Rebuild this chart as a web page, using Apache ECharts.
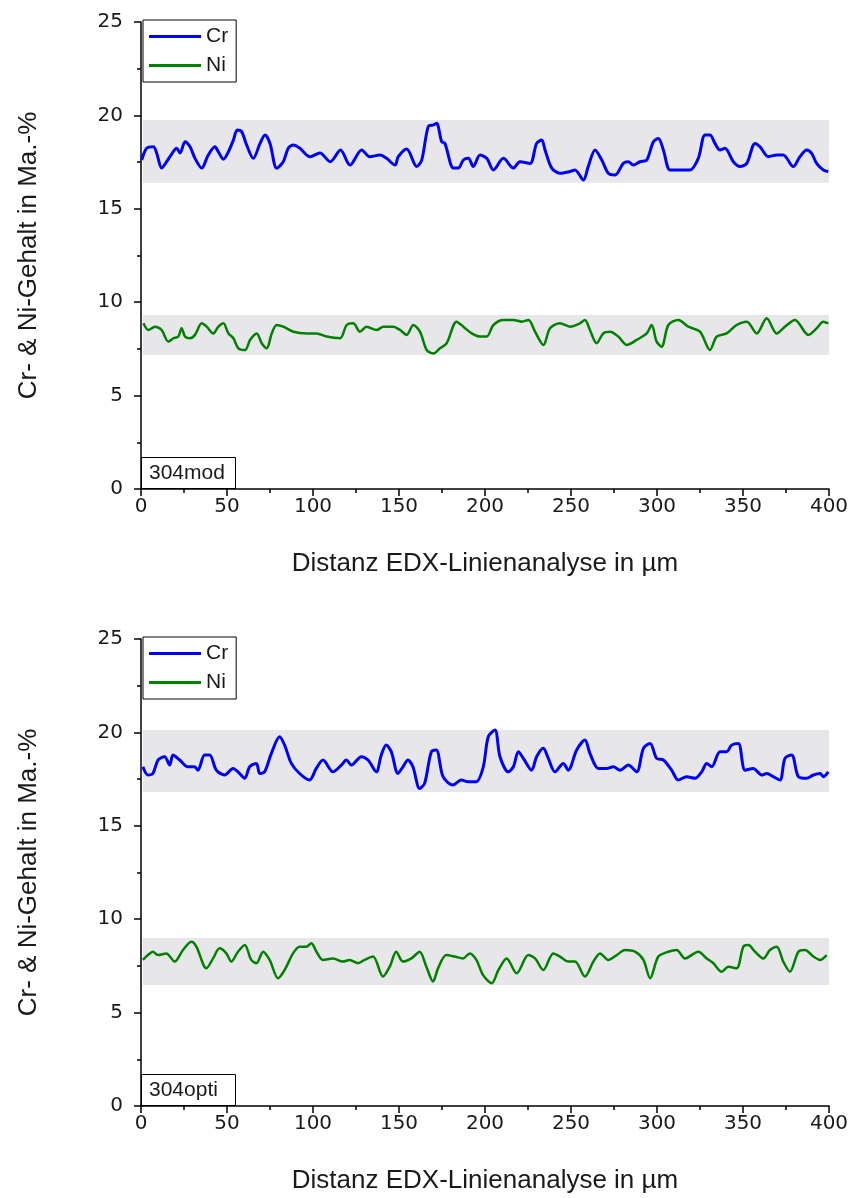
<!DOCTYPE html>
<html>
<head>
<meta charset="utf-8">
<script src="https://cdn.jsdelivr.net/npm/echarts@6/dist/echarts.min.js"></script>
<style>
html,body{margin:0;padding:0;background:#fff;}
#chart{width:854px;height:1198px;}
</style>
</head>
<body>
<div id="chart"></div>
<script>
// ---- axis ranges ----
const X_MIN = 0, X_MAX = 400, X_STEP = 50;
const Y_MIN = 0, Y_MAX = 25, Y_STEP = 5;
const xAxisTitle = 'Distanz EDX-Linienanalyse in µm';
const yAxisTitle = 'Cr- & Ni-Gehalt in Ma.-%';
const sampleNames = ['304mod', '304opti'];
const seriesNames = ['Cr', 'Ni'];

// ---- 304mod : Cr ----
const crModX = [0.4,3.3,7.2,9.1,12,14.9,17.8,20.7,22.7,25.6,28.5,31.4,35.3,39.1,43,45,47.9,50.8,53.7,56,58.5,61.4,65.3,69.2,72.1,75,78.9,82.7,85.6,88.6,92.4,98.3,104,110,116,121.5,128.3,133,139,142.8,147.7,149.6,154.5,160.3,163.2,167,170,171.9,174.8,176.7,181.6,184.5,187.4,190.3,193.2,197.1,201,204.9,210.7,216.5,220.3,226.2,230,233,234.9,238.8,243.6,249.4,252.3,257.2,260,264,267.9,271.7,275.6,280.4,283.3,286.2,290.1,294,297.9,300.8,303.7,307.6,313.4,319.2,324,327.9,330.8,333.7,336.6,339.5,344.4,348.3,352.2,357,359.9,364.7,369.6,373.4,379.2,383.1,387,389.9,392.8,396.7,399.6];
const crModY = [17.61,18.24,18.32,17.99,17.18,17.52,17.93,18.24,17.99,18.59,18.32,17.7,17.18,17.88,18.32,18.05,17.65,18.05,18.68,19.22,19.13,18.42,17.7,18.5,18.95,18.5,17.17,17.52,18.24,18.42,18.24,17.79,17.99,17.52,18.15,17.34,18.15,17.79,17.88,17.7,17.34,17.79,18.2,17.26,17.61,19.4,19.49,19.58,18.59,18.5,17.18,17.18,17.61,17.7,17.26,17.88,17.7,17.08,17.7,17.18,17.52,17.43,18.5,18.68,18.15,17.18,16.9,17.0,17.08,16.54,17.26,18.15,17.61,16.9,16.81,17.43,17.52,17.34,17.52,17.61,18.59,18.77,18.15,17.08,17.08,17.08,17.7,18.95,18.95,18.5,18.15,18.24,17.52,17.26,17.43,18.5,18.32,17.79,17.88,17.88,17.26,17.79,18.15,17.97,17.43,17.08,17.0];

// ---- 304mod : Ni ----
const niModX = [1.4,4.3,8.1,12,15.9,18.8,21.7,23.6,25.6,28.5,31.4,35.3,38.2,42,45,47.9,50.8,53.7,56.6,60.5,63.4,67.3,70.2,73.1,76,78.9,82.7,88.6,96.3,102.1,108,115.7,119.6,123.4,127.3,131.2,137,140.9,146.7,150.6,154.5,158.3,162.2,166.1,170,173.8,177.7,183.5,187.4,192.3,197.1,201,204.9,210.7,216.5,221.4,225.3,229.1,234,237.8,243.6,249.4,255.2,258.1,261,264.9,268.8,272.7,277.5,282.4,288.2,294,296.9,299.8,302.7,306.6,312.4,318.2,325,330.8,334.7,340.5,346.3,352.2,358,363.8,369.6,374.4,380.2,388,392.8,396.7,399.6];
const niModY = [8.87,8.51,8.69,8.51,7.89,8.07,8.16,8.6,8.16,8.07,8.25,8.87,8.69,8.33,8.69,8.87,8.33,8.07,7.53,7.44,7.98,8.33,7.8,7.53,8.33,8.78,8.69,8.42,8.33,8.33,8.16,8.07,8.78,8.87,8.42,8.69,8.51,8.69,8.69,8.51,8.25,8.78,8.42,7.44,7.26,7.53,7.8,8.96,8.69,8.33,8.16,8.16,8.78,9.05,9.05,8.96,9.05,8.42,7.71,8.6,8.87,8.69,8.87,9.05,8.51,7.8,8.33,8.42,8.16,7.71,7.98,8.33,8.78,7.89,7.62,8.78,9.05,8.69,8.42,7.44,8.16,8.33,8.78,8.96,8.33,9.14,8.33,8.69,9.05,8.25,8.6,8.96,8.87];

// ---- 304opti : Cr ----
const crOptiX = [1.1,4.0,6.9,9.9,13.7,16.7,18.6,22.5,27.3,31.2,33.1,37,39.9,43.8,48.6,53.5,56.4,60.3,63.2,67.1,69,71.9,75.8,80.6,83.5,87.4,92.2,98,101.9,105.8,111.6,116.5,119.4,122.3,128.1,132,136.8,139.7,142.6,145.5,149.4,152.3,155.2,158.1,162,164.9,168.8,171.7,175.6,181.4,186.2,190.1,194.9,199,201.9,205.8,208.7,213.6,216.5,219.4,222.3,227.1,230,233.9,236.8,240.7,245.5,248.4,253.3,258.1,261,265.9,270.7,274.6,278.5,283.3,288.2,292.1,296,299.8,303.7,308.5,312.4,317.2,322.1,326,328.9,331.8,336.6,340.5,343.4,347.3,351.2,356,360.9,363.8,367.6,371.5,374.4,378.3,382.2,387,390.9,394.8,396.7,399.6];
const crOptiY = [18.16,17.72,17.8,18.52,18.7,18.25,18.79,18.52,18.16,18.16,17.98,18.79,18.79,17.98,17.72,18.07,17.89,17.54,18.16,18.34,17.8,17.89,18.88,19.77,19.32,18.34,17.8,17.45,18.07,18.52,17.89,18.25,18.52,18.25,18.7,18.52,17.89,18.79,19.32,18.97,17.8,18.16,18.52,18.16,17.0,17.27,18.97,19.06,17.63,17.18,17.45,17.36,17.36,18.16,19.77,20.13,18.7,17.89,18.16,18.97,18.61,17.98,18.7,19.15,18.61,17.89,18.34,17.98,19.06,19.59,18.88,18.07,18.07,18.16,17.98,18.25,17.89,19.15,19.41,18.61,18.52,17.98,17.45,17.63,17.54,17.89,18.34,18.16,18.97,18.97,19.32,19.41,17.98,18.07,17.72,17.8,17.63,17.45,18.61,18.79,17.63,17.54,17.72,17.8,17.63,17.89];

// ---- 304opti : Ni ----
const niOptiX = [1.1,4.0,6.9,9.9,14.7,19.6,24.4,29.3,32.2,38,41.9,45.7,49.6,52.5,56.4,60.3,64.1,67.1,71,74.8,79.7,83.5,88.4,92.2,96.1,99,102,105.8,111.6,117.4,121.3,126.2,130,134.9,140.7,144.6,148.4,152.3,157.2,162,165.9,169.8,172.7,177.5,182.4,187.2,191.1,195,198.8,203.9,207.8,212.6,218.4,225.2,229.1,233.9,239.7,243.6,248.4,252.3,258.1,263,266.9,271.7,276.6,281.4,287.2,292.1,296,300.8,306.6,311.4,316.3,324,328.9,332.8,337.6,341.5,346.3,350.2,353.1,357,361.8,365.7,369.6,373.4,377.3,382.2,386,390.9,394.8,398.6];
const niOptiY = [7.82,8.08,8.26,8.08,8.17,7.73,8.35,8.79,8.53,7.37,7.9,8.44,8.17,7.73,8.26,8.62,7.82,7.64,8.26,7.82,6.84,7.28,8.17,8.53,8.53,8.71,8.26,7.82,7.9,7.73,7.82,7.64,7.82,8.0,6.93,7.46,8.26,7.73,7.9,8.26,7.46,6.66,7.37,8.08,8.0,7.9,8.17,7.82,7.02,6.57,7.28,7.9,7.1,8.08,7.9,7.28,8.17,8.0,7.73,7.73,6.93,7.73,8.17,7.82,8.08,8.35,8.26,7.82,6.84,8.0,8.26,8.35,7.9,8.26,7.9,7.64,7.19,7.46,7.37,8.53,8.62,8.26,7.9,8.35,8.53,7.73,7.19,8.26,8.35,8.0,7.82,8.08];

// ---- grey bands [y low, y high], spanning bandXRange ----
const bandXRange = [1, 400];
const modCrBand = [16.4, 19.75];
const modNiBand = [7.17, 9.31];
const optiCrBand = [16.81, 20.13];
const optiNiBand = [6.48, 8.99];

const zip = (xs, ys) => xs.map((x, i) => [x, ys[i]]);

const TEXT = '#1a1a1a';
const GRID_LEFT = 141, GRID_W = 688, GRID_H = 467;
const GRID_TOPS = [22, 639];

function xAxisOpt(gi) {
  return {
    gridIndex: gi, type: 'value', min: X_MIN, max: X_MAX, interval: X_STEP,
    name: xAxisTitle, nameLocation: 'middle', nameGap: 62,
    nameTextStyle: { fontFamily: 'Liberation Sans', fontSize: 26, color: TEXT },
    axisLine: { show: true, onZero: false, lineStyle: { color: '#000', width: 1.5 } },
    axisTick: { show: true, length: 7, lineStyle: { color: '#000', width: 1.5 } },
    minorTick: { show: true, splitNumber: 2, length: 4, lineStyle: { color: '#000', width: 1.5 } },
    axisLabel: { fontFamily: 'DejaVu Sans', fontSize: 20, color: TEXT, margin: 8, showMaxLabel: true },
    splitLine: { show: false }, minorSplitLine: { show: false }
  };
}
function yAxisOpt(gi) {
  return {
    gridIndex: gi, type: 'value', min: Y_MIN, max: Y_MAX, interval: Y_STEP,
    name: yAxisTitle, nameLocation: 'middle', nameGap: 99,
    nameTextStyle: { fontFamily: 'Liberation Sans', fontSize: 26, color: TEXT },
    axisLine: { show: true, onZero: false, lineStyle: { color: '#000', width: 1.5 } },
    axisTick: { show: true, length: 7, lineStyle: { color: '#000', width: 1.5 } },
    minorTick: { show: true, splitNumber: 2, length: 4, lineStyle: { color: '#000', width: 1.5 } },
    axisLabel: { fontFamily: 'DejaVu Sans', fontSize: 20, color: TEXT, margin: 18 },
    splitLine: { show: false }, minorSplitLine: { show: false }
  };
}
function bandSeries(gi, bands) {
  return {
    type: 'line', xAxisIndex: gi, yAxisIndex: gi, data: [], z: 1, silent: true,
    markArea: {
      silent: true,
      itemStyle: { color: '#e7e7ea', opacity: 1 },
      data: bands.map(b => [{ xAxis: bandXRange[0], yAxis: b[0] }, { xAxis: bandXRange[1], yAxis: b[1] }])
    }
  };
}
function lineSeries(gi, name, xs, ys, color, width) {
  return {
    type: 'line', name: name, xAxisIndex: gi, yAxisIndex: gi, z: 3,
    data: zip(xs, ys), symbol: 'none', showSymbol: false, smooth: 0.3,
    lineStyle: { color: color, width: width }, itemStyle: { color: color }
  };
}

const option = {
  backgroundColor: '#fff',
  animation: false,
  grid: GRID_TOPS.map(t => ({ left: GRID_LEFT, top: t, width: GRID_W, height: GRID_H, containLabel: false })),
  xAxis: [xAxisOpt(0), xAxisOpt(1)],
  yAxis: [yAxisOpt(0), yAxisOpt(1)],
  legend: GRID_TOPS.map(t => ({
    data: seriesNames, orient: 'vertical', left: 143, top: t - 2,
    borderColor: '#000', borderWidth: 1, padding: [6, 8, 6, 6],
    icon: 'rect', itemWidth: 52, itemHeight: 3, itemGap: 8, selectedMode: false,
    textStyle: { fontFamily: 'Liberation Sans', fontSize: 21, color: TEXT, lineHeight: 20 }
  })),
  title: GRID_TOPS.map((t, i) => ({
    text: sampleNames[i], left: GRID_LEFT, top: t + GRID_H - 32,
    borderColor: '#000', borderWidth: 1, padding: [4, 8, 4, 8],
    textStyle: { fontFamily: 'Liberation Sans', fontSize: 21, fontWeight: 'normal', color: TEXT, lineHeight: 24, width: 79, overflow: 'none' }
  })),
  series: [
    bandSeries(0, [modCrBand, modNiBand]),
    lineSeries(0, 'Cr', crModX, crModY, '#0000ff', 3),
    lineSeries(0, 'Ni', niModX, niModY, '#008000', 2.5),
    bandSeries(1, [optiCrBand, optiNiBand]),
    lineSeries(1, 'Cr', crOptiX, crOptiY, '#0000ff', 3),
    lineSeries(1, 'Ni', niOptiX, niOptiY, '#008000', 2.5)
  ]
};

const chart = echarts.init(document.getElementById('chart'), null, { renderer: 'canvas' });
chart.setOption(option);
</script>
</body>
</html>
